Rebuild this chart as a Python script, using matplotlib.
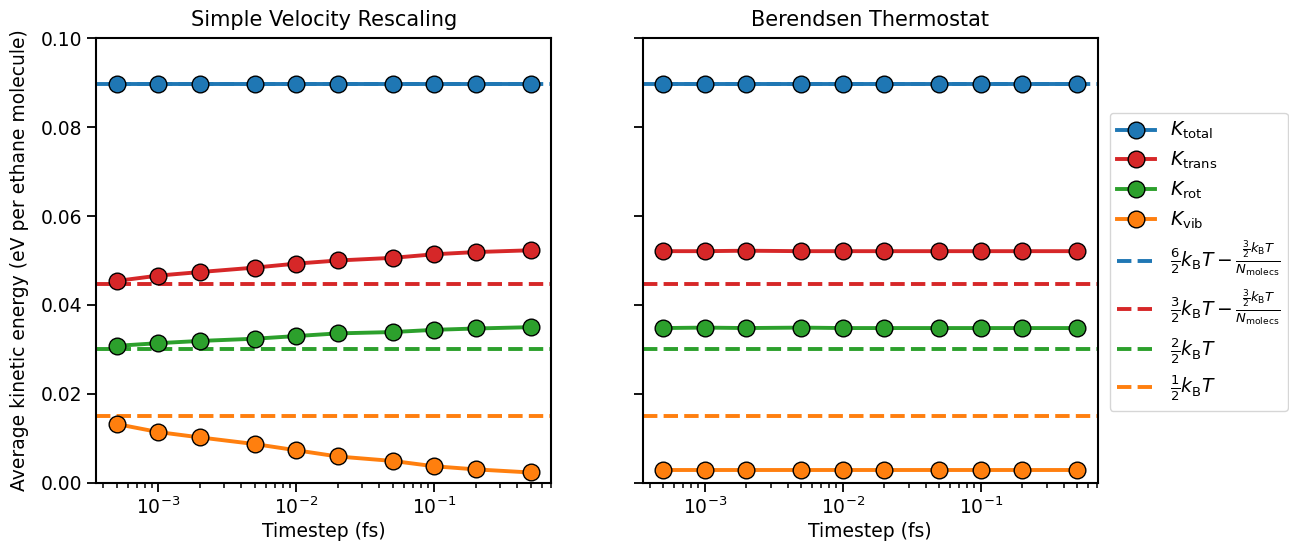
import numpy as np
import matplotlib
matplotlib.use("Agg")
import matplotlib.pyplot as plt
from matplotlib.lines import Line2D

# Timesteps (fs)
timesteps = [5e-4, 1e-3, 2e-3, 5e-3, 1e-2, 2e-2, 5e-2, 1e-1, 2e-1, 5e-1]

# Simple velocity rescaling (eV per ethane molecule)
svr_total = [0.0896, 0.0896, 0.0896, 0.0896, 0.0896, 0.0896, 0.0896, 0.0896, 0.0896, 0.0896]
svr_trans = [0.0454, 0.0466, 0.0474, 0.0484, 0.0493, 0.0500, 0.0506, 0.0514, 0.0519, 0.0523]
svr_rot = [0.0308, 0.0314, 0.0319, 0.0324, 0.0330, 0.0336, 0.0339, 0.0344, 0.0347, 0.0350]
svr_vib = [0.0132, 0.0114, 0.0102, 0.0087, 0.0073, 0.0059, 0.0049, 0.0037, 0.0030, 0.0023]

# Berendsen thermostat (eV per ethane molecule)
ber_total = [0.0896, 0.0896, 0.0896, 0.0896, 0.0896, 0.0896, 0.0896, 0.0896, 0.0896, 0.0896]
ber_trans = [0.0521, 0.0521, 0.0522, 0.0521, 0.0521, 0.0521, 0.0521, 0.0521, 0.0521, 0.0521]
ber_rot = [0.0348, 0.0349, 0.0348, 0.0349, 0.0348, 0.0348, 0.0348, 0.0348, 0.0348, 0.0348]
ber_vib = [0.0029, 0.0029, 0.0029, 0.0029, 0.0029, 0.0029, 0.0029, 0.0029, 0.0029, 0.0029]

# Equipartition reference values
ref_values = [0.0896, 0.0446, 0.0300, 0.0150]

colors = ["#1f77b4", "#d62728", "#2ca02c", "#ff7f0e"]
series_labels = [r"$K_{\mathrm{total}}$", r"$K_{\mathrm{trans}}$",
                 r"$K_{\mathrm{rot}}$", r"$K_{\mathrm{vib}}$"]
ref_labels = [
    r"$\frac{6}{2}k_{\mathrm{B}}T - \frac{\frac{3}{2}k_{\mathrm{B}}T}{N_{\mathrm{molecs}}}$",
    r"$\frac{3}{2}k_{\mathrm{B}}T - \frac{\frac{3}{2}k_{\mathrm{B}}T}{N_{\mathrm{molecs}}}$",
    r"$\frac{2}{2}k_{\mathrm{B}}T$",
    r"$\frac{1}{2}k_{\mathrm{B}}T$",
]
titles = ["Simple Velocity Rescaling", "Berendsen Thermostat"]

plt.rcParams.update({
    "font.family": "DejaVu Sans",
    "font.size": 13,
    "axes.linewidth": 1.5,
    "xtick.major.width": 1.3,
    "ytick.major.width": 1.3,
    "xtick.minor.width": 1.1,
    "xtick.major.size": 6.5,
    "ytick.major.size": 6.5,
    "xtick.minor.size": 3.6,
})

fig, axes = plt.subplots(1, 2, figsize=(12.89, 5.46), dpi=100, sharey=True)
fig.subplots_adjust(left=0.0745, right=0.8518, top=0.9299, bottom=0.1159, wspace=0.2)

panels = [
    (svr_total, svr_trans, svr_rot, svr_vib),
    (ber_total, ber_trans, ber_rot, ber_vib),
]

for ax, data, title in zip(axes, panels, titles):
    for vals, c in zip(data, colors):
        ax.plot(timesteps, vals, "-o", color=c, lw=2.8, ms=12,
                markeredgecolor="black", markeredgewidth=1.0, zorder=3)
    for ref, c in zip(ref_values, colors):
        ax.axhline(ref, color=c, lw=2.8, ls="--", zorder=2)
    ax.set_xscale("log")
    ax.set_title(title, fontsize=15, pad=9)
    ax.set_xlabel("Timestep (fs)", fontsize=13.5, labelpad=3)
    ax.tick_params(labelsize=13.5)

axes[0].set_ylim(0.0, 0.1)
axes[0].set_yticks([0.0, 0.02, 0.04, 0.06, 0.08, 0.10])
axes[0].set_yticklabels(["0.00", "0.02", "0.04", "0.06", "0.08", "0.10"])
axes[0].set_ylabel("Average kinetic energy (eV per ethane molecule)", fontsize=13.5,
                   labelpad=8)

handles = []
for c, lab in zip(colors, series_labels):
    handles.append(Line2D([], [], color=c, lw=2.8, marker="o", ms=12,
                          markeredgecolor="black", markeredgewidth=1.0, label=lab))
for c, lab in zip(colors, ref_labels):
    handles.append(Line2D([], [], color=c, lw=2.8, ls="--", label=lab))

axes[1].legend(handles=handles, loc="center left", bbox_to_anchor=(1.005, 0.497),
               fontsize=13.5, frameon=True, labelspacing=0.45, handlelength=2.0)

fig.savefig("out.png", dpi=100)
